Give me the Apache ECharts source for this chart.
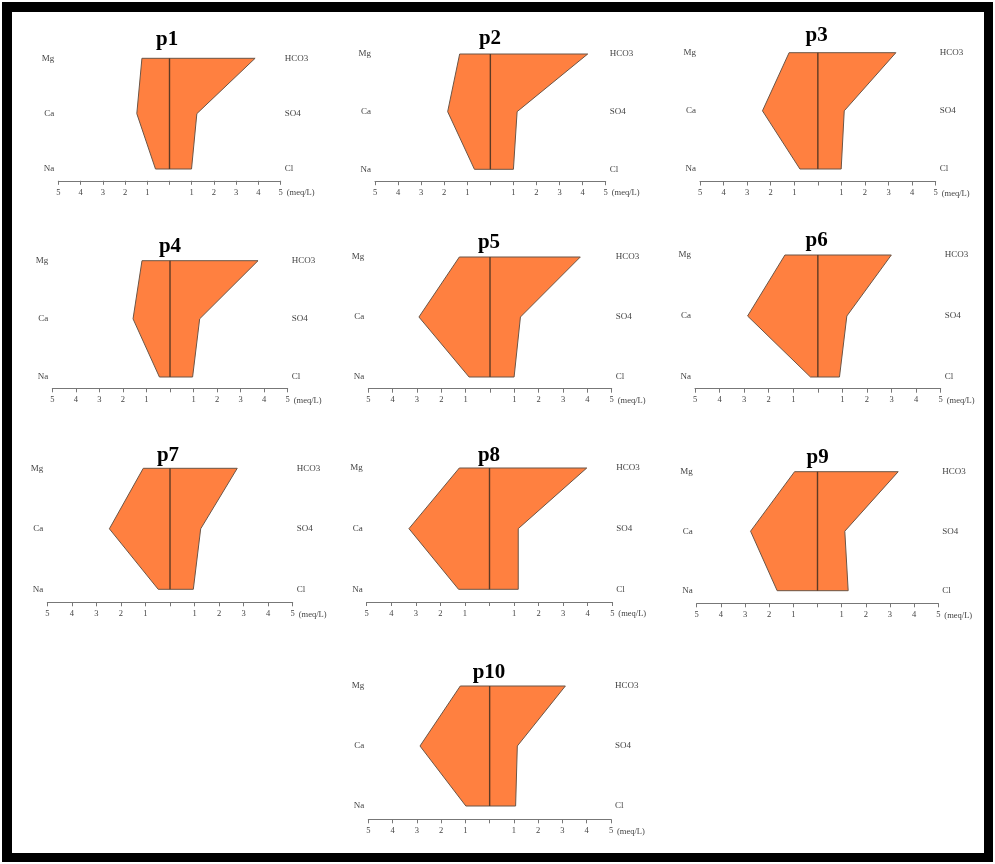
<!DOCTYPE html>
<html>
<head>
<meta charset="utf-8">
<script src="https://cdn.jsdelivr.net/npm/echarts@6/dist/echarts.min.js"></script>
<style>
html,body{margin:0;padding:0;background:#fff;}
#frame{position:absolute;left:2px;top:2px;width:991px;height:860px;box-sizing:border-box;border-style:solid;border-color:#000;border-width:10px 9px 9px 10px;}
#chart{position:absolute;left:0;top:0;width:995px;height:864px;}
</style>
</head>
<body>
<div id="frame"></div>
<div id="chart"></div>
<script>
// ---- data (meq/L) ----
const samples = ['p1','p2','p3','p4','p5','p6','p7','p8','p9','p10'];
const cationLabels = ['Na','Ca','Mg'];
const anionLabels = ['Cl','SO4','HCO3'];
const mg   = [1.24,1.33,1.22,1.19,1.26,1.34,1.09,1.23,0.95,1.21];
const ca   = [1.47,1.85,2.35,1.57,2.92,2.86,2.47,3.28,2.77,2.87];
const na   = [0.63,0.69,0.76,0.45,0.86,0.30,0.48,1.26,1.67,0.98];
const hco3 = [3.85,4.22,3.31,3.74,3.71,2.99,2.74,3.96,3.34,3.12];
const so4  = [1.23,1.16,1.12,1.26,1.25,1.18,1.25,1.17,1.13,1.14];
const cl   = [0.99,1.00,0.99,0.96,0.99,0.88,0.95,1.17,1.27,1.07];
const axisMin = -5, axisMax = 5, axisStep = 1;
const unitLabel = '(meq/L)';

// ---- layout (pixels) ----
const layout = [
  {L:58.3, R:280.7, top:58.3, bot:169.0, ax:180.8, tx:167.2, ty:40},
  {L:375.0,R:605.7, top:54.0, bot:169.3, ax:181.2, tx:490.0, ty:38.5},
  {L:700.0,R:935.7, top:52.7, bot:169.0, ax:181.5, tx:816.7, ty:36},
  {L:52.3, R:287.7, top:260.7,bot:377.0, ax:388.3, tx:170.0, ty:246.5},
  {L:368.3,R:611.7, top:257.0,bot:377.0, ax:388.7, tx:489.0, ty:243},
  {L:695.0,R:940.7, top:255.0,bot:377.0, ax:388.7, tx:816.7, ty:241},
  {L:47.3, R:292.7, top:468.3,bot:589.3, ax:602.3, tx:168.0, ty:456},
  {L:366.7,R:612.3, top:468.0,bot:589.3, ax:602.0, tx:489.0, ty:456},
  {L:696.7,R:938.3, top:471.7,bot:590.7, ax:603.3, tx:817.7, ty:458},
  {L:368.3,R:611.0, top:686.0,bot:806.0, ax:819.3, tx:489.0, ty:673}
];

const FONT = 'Liberation Serif';
const chart = echarts.init(document.getElementById('chart'), null, {renderer:'canvas'});

const grid = [], xAxis = [], yAxis = [], series = [], title = [];
samples.forEach((name, i) => {
  const g = layout[i];
  title.push({
    text: name, left: g.tx, top: g.ty, textAlign: 'center', textVerticalAlign: 'middle', padding: 0,
    textStyle: {fontFamily: FONT, fontWeight: 'bold', fontSize: 21, color: '#000'}
  });
  grid.push({left: g.L, top: g.top, width: g.R - g.L, height: g.bot - g.top, containLabel: false});
  xAxis.push({
    type: 'value', gridIndex: i, min: axisMin, max: axisMax, interval: axisStep,
    position: 'bottom', offset: g.ax - g.bot,
    name: unitLabel, nameLocation: 'end', nameGap: 6,
    nameTextStyle: {fontFamily: FONT, fontSize: 8.5, color: '#444', verticalAlign: 'top', padding: [7.5,0,0,0]},
    splitLine: {show: false},
    axisLine: {show: true, lineStyle: {color: '#777', width: 1}},
    axisTick: {show: true, inside: false, length: 4, lineStyle: {color: '#777', width: 1}},
    axisLabel: {
      margin: 7, fontFamily: FONT, fontSize: 8.5, color: '#444',
      formatter: v => (v === 0 ? '' : String(Math.abs(v)))
    }
  });
  yAxis.push({
    type: 'category', gridIndex: i, data: cationLabels, boundaryGap: false, position: 'left',
    axisLine: {show: false}, axisTick: {show: false}, splitLine: {show: false},
    axisLabel: {margin: 4, fontFamily: FONT, fontSize: 9, color: '#444'}
  });
  yAxis.push({
    type: 'category', gridIndex: i, data: anionLabels, boundaryGap: false, position: 'right',
    axisLine: {show: false}, axisTick: {show: false}, splitLine: {show: false},
    axisLabel: {margin: 4, fontFamily: FONT, fontSize: 9, color: '#444'}
  });
  series.push({
    type: 'custom', xAxisIndex: i, yAxisIndex: 2 * i, clip: false, silent: true,
    data: [[mg[i], ca[i], na[i], hco3[i], so4[i], cl[i]]],
    encode: {x: [], y: []},
    renderItem: function (params, api) {
      const pts = [
        api.coord([-api.value(0), 2]),
        api.coord([-api.value(1), 1]),
        api.coord([-api.value(2), 0]),
        api.coord([ api.value(5), 0]),
        api.coord([ api.value(4), 1]),
        api.coord([ api.value(3), 2])
      ];
      const c0 = api.coord([0, 0]), c1 = api.coord([0, 2]);
      return {
        type: 'group',
        children: [
          {type: 'polygon', shape: {points: pts}, style: {fill: '#FF8040', stroke: '#6b5546', lineWidth: 1}},
          {type: 'line', shape: {x1: c0[0], y1: c0[1], x2: c1[0], y2: c1[1]}, style: {stroke: '#5e3a24', lineWidth: 1.4}}
        ]
      };
    }
  });
});

chart.setOption({
  animation: false,
  backgroundColor: 'transparent',
  title, grid, xAxis, yAxis, series
});
</script>
</body>
</html>
